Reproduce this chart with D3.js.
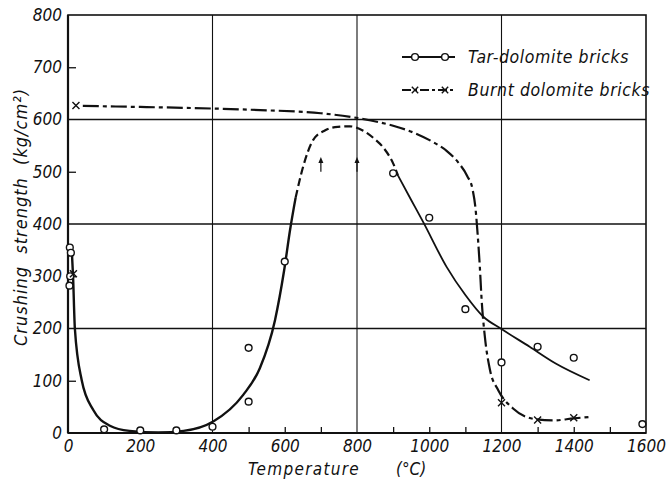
<!DOCTYPE html>
<html><head><meta charset="utf-8">
<script src="https://cdn.jsdelivr.net/npm/d3@7"></script>
<style>
html,body{margin:0;padding:0;background:#fff;}
text{font-family:"DejaVu Sans Condensed","Liberation Sans Narrow","DejaVu Sans",sans-serif;font-style:italic;fill:#111;}
</style></head>
<body><svg id="c" width="671" height="479"></svg>
<script>
// ---- data ----
const xTickLabels = [0,200,400,600,800,1000,1200,1400,1600];
const yTickLabels = [0,100,200,300,400,500,600,700,800];
const xGrid = [400,800,1200];
const yGrid = [200,400,600];
const xMinor = [100,200,300,500,600,700,900,1000,1100,1300,1400,1500];
const yMinor = [100,300,500,700];

// Tar-dolomite bricks: measured points
const tarX = [5,8,6,4,100,200,300,400,500,500,600,900,1000,1100,1200,1300,1400,1590];
const tarY = [355,345,300,282,7,5,5,12,60,163,328,497,412,237,135,165,144,17];
// Burnt dolomite bricks: measured points
const burntX = [22,15,1200,1300,1400];
const burntY = [627,305,58,25,29];

// fitted curves
const tarSolidA = [[10,356],[14,300],[19,200],[38,101],[70,44],[116,14],[170,4],[250,1],[320,4],[402,22],[485,73],[531,124],[573,216],[598,310],[615,390],[630,450]];
const tarDashed = [[630,450],[651,510],[678,560],[711,579],[747,586],[780,587],[816,579],[850,562],[872,547],[900,516],[914,492]];
const tarSolidB = [[914,492],[950,446],[983,404],[1048,318],[1100,264],[1149,223],[1200,199],[1278,165],[1350,133],[1444,101]];
const burntCurve = [[41,626],[200,624],[400,621],[532,618],[700,612],[808,602],[900,588],[960,574],[1010,557],[1048,540],[1080,518],[1105,492],[1120,466],[1128,430],[1134,380],[1140,318],[1145,255],[1154,184],[1168,121],[1191,82],[1232,47],[1297,26],[1343,24],[1400,28],[1449,31]];
const arrowX = [700,800];
const arrowFrom = 500, arrowTo = 528;

const seriesNames = ["Tar-dolomite bricks","Burnt dolomite bricks"];

// ---- drawing ----
const svg = d3.select("#c");
const x = d3.scaleLinear().domain([0,1600]).range([68,646]);
const y = d3.scaleLinear().domain([0,800]).range([433,15]);
const ink = "#111";

// gridlines
svg.append("g").selectAll("line").data(yGrid).join("line")
  .attr("x1",x(0)).attr("x2",x(1600)).attr("y1",d=>y(d)).attr("y2",d=>y(d))
  .attr("stroke",ink).attr("stroke-width",1.3);
svg.append("g").selectAll("line").data(xGrid).join("line")
  .attr("y1",y(0)).attr("y2",y(800)).attr("x1",d=>x(d)).attr("x2",d=>x(d))
  .attr("stroke",ink).attr("stroke-width",1.1);

// minor inner ticks via axes
const gx = svg.append("g").attr("transform",`translate(0,${y(0)})`)
  .call(d3.axisBottom(x).tickValues(xMinor).tickSize(-6).tickFormat(""));
const gy = svg.append("g").attr("transform",`translate(${x(0)},0)`)
  .call(d3.axisLeft(y).tickValues(yMinor).tickSize(-8).tickFormat(""));
[gx,gy].forEach(g=>{g.select(".domain").remove(); g.selectAll("line").attr("stroke",ink).attr("stroke-width",1.3);});

// frame
svg.append("rect").attr("x",x(0)).attr("y",y(800)).attr("width",x(1600)-x(0)).attr("height",y(0)-y(800))
  .attr("fill","none").attr("stroke",ink).attr("stroke-width",1.6);
svg.append("line").attr("x1",x(0)).attr("x2",x(1600)).attr("y1",y(0)).attr("y2",y(0)).attr("stroke",ink).attr("stroke-width",2.2);
svg.append("line").attr("x1",x(0)).attr("x2",x(0)).attr("y1",y(0)).attr("y2",y(800)).attr("stroke",ink).attr("stroke-width",2.2);

// tick labels
const xl = svg.append("g").attr("transform",`translate(0,${y(0)})`)
  .call(d3.axisBottom(x).tickValues(xTickLabels).tickSize(0).tickPadding(7).tickFormat(d3.format("d")));
const yl = svg.append("g").attr("transform",`translate(${x(0)},0)`)
  .call(d3.axisLeft(y).tickValues(yTickLabels).tickSize(0).tickPadding(6).tickFormat(d3.format("d")));
[xl,yl].forEach(g=>{g.select(".domain").remove(); g.selectAll("text").attr("font-size",17).attr("font-family",null);});

// curves
const line = d3.line().x(d=>x(d[0])).y(d=>y(d[1])).curve(d3.curveMonotoneX);
svg.append("path").attr("d",line(tarSolidA)).attr("fill","none").attr("stroke",ink).attr("stroke-width",2.4);
svg.append("path").attr("d",line(tarDashed)).attr("fill","none").attr("stroke",ink).attr("stroke-width",2.2).attr("stroke-dasharray","8,4");
svg.append("path").attr("d",line(tarSolidB)).attr("fill","none").attr("stroke",ink).attr("stroke-width",1.8);
svg.append("path").attr("d",line(burntCurve)).attr("fill","none").attr("stroke",ink).attr("stroke-width",2.2).attr("stroke-dasharray","16,4,4,4");

// arrows
const ga = svg.append("g");
ga.selectAll("line").data(arrowX).join("line")
  .attr("x1",d=>x(d)).attr("x2",d=>x(d)).attr("y1",y(arrowFrom)).attr("y2",y(arrowTo)+3)
  .attr("stroke",ink).attr("stroke-width",1.2);
ga.selectAll("path").data(arrowX).join("path")
  .attr("d",d=>`M${x(d)},${y(arrowTo)} l-2.5,6 l5,0 z`).attr("fill",ink);

// markers
const tarPts = tarX.map((v,i)=>[v,tarY[i]]);
const burntPts = burntX.map((v,i)=>[v,burntY[i]]);
svg.append("g").selectAll("circle").data(tarPts).join("circle")
  .attr("cx",d=>x(d[0])).attr("cy",d=>y(d[1])).attr("r",3.4)
  .attr("fill","#fff").attr("stroke",ink).attr("stroke-width",1.4);
const cross = s=>`M${-s},${-s}L${s},${s}M${-s},${s}L${s},${-s}`;
svg.append("g").selectAll("path").data(burntPts).join("path")
  .attr("transform",d=>`translate(${x(d[0])},${y(d[1])})`).attr("d",cross(3.5))
  .attr("stroke",ink).attr("stroke-width",1.4).attr("fill","none");

// legend
const lg = svg.append("g");
const lgY = [57,90];
lg.append("line").attr("x1",402).attr("x2",455).attr("y1",lgY[0]).attr("y2",lgY[0]).attr("stroke",ink).attr("stroke-width",2);
lg.selectAll("circle").data([415,445]).join("circle").attr("cx",d=>d).attr("cy",lgY[0]).attr("r",3.4)
  .attr("fill","#fff").attr("stroke",ink).attr("stroke-width",1.4);
lg.append("line").attr("x1",402).attr("x2",455).attr("y1",lgY[1]).attr("y2",lgY[1]).attr("stroke",ink).attr("stroke-width",2).attr("stroke-dasharray","9,3,3,3");
lg.selectAll("path").data([415,445]).join("path").attr("transform",d=>`translate(${d},${lgY[1]})`).attr("d",cross(3.2))
  .attr("stroke",ink).attr("stroke-width",1.4);
lg.selectAll("text").data(seriesNames).join("text").attr("x",468).attr("y",(d,i)=>lgY[i]+6)
  .attr("font-size",17.5).attr("letter-spacing",0.6).text(d=>d);

// axis titles
svg.append("text").attr("x",248).attr("y",475).attr("font-size",17).attr("letter-spacing",1.3).text("Temperature");
svg.append("text").attr("x",396).attr("y",475).attr("font-size",17).text("(°C)");
svg.append("text").attr("transform","translate(27,217) rotate(-90)").attr("text-anchor","middle")
  .attr("font-size",18).attr("xml:space","preserve").attr("letter-spacing",1).text("Crushing  strength  (kg/cm²)");
</script></body></html>
